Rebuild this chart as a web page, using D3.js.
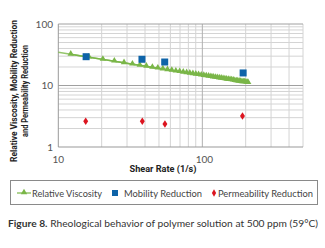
<!DOCTYPE html>
<html><head><meta charset="utf-8">
<script src="https://cdn.jsdelivr.net/npm/d3@7"></script>
<style>body{margin:0;background:#fff}svg{display:block}</style>
</head><body><svg id="c" width="325" height="248"></svg>
<script>
// ---- data ----
const viscRate = [12.2,16.3,20.4,24.5,28.6,32.7,36.8,40.9,45.0,49.1,53.2,57.3,61.4,65.5,69.6,73.7,77.8,81.9,86.0,90.1,94.2,98.3,102.4,106.5,110.6,114.7,118.8,122.9,127.0,131.1,135.2,139.3,143.4,147.5,151.6,155.7,159.8,163.9,168.0,172.1,176.2,180.3,184.4,188.5,192.6,196.7,200.8,204.9,208];
const viscValue = [32.2,28.9,26.6,24.8,23.4,22.2,21.3,20.5,19.7,19.1,18.5,18.0,17.6,17.1,16.8,16.4,16.1,15.8,15.5,15.2,15.0,14.7,14.5,14.3,14.1,13.9,13.7,13.5,13.4,13.2,13.1,12.9,12.8,12.6,12.5,12.4,12.3,12.2,12.0,11.9,11.8,11.7,11.6,11.5,11.4,11.4,11.3,11.2,11.1];
const trendRate = [10, 208];
const trendValue = [34.7, 11.1];
const mobRate = [15.6, 38.1, 54.8, 192];
const mobValue = [29.4, 26.7, 24.1, 16.0];
const permRate = [15.5, 38.3, 55.0, 190];
const permValue = [2.62, 2.62, 2.37, 3.19];
const xTicks = [10, 100];
const yTicks = [1, 10, 100];
const legendLabels = ["Relative Viscosity", "Mobility Reduction", "Permeability Reduction"];

const green = "#7ab648", blue = "#0e63a8", red = "#dc1520";
const svg = d3.select("#c");
const x = d3.scaleLog().domain([10, 500]).range([58.3, 303]);
const y = d3.scaleLog().domain([1, 100]).range([147, 24]);

// gridlines
const g = svg.append("g");
const minorX = [], minorY = [];
[10, 100].forEach(d => { for (let k = 2; k <= 9; k++) if (d*k <= 500) minorX.push(d*k); });
[1, 10].forEach(d => { for (let k = 2; k <= 9; k++) minorY.push(d*k); });
g.selectAll(".mx").data(minorX).join("line").attr("x1", d => x(d)).attr("x2", d => x(d))
  .attr("y1", y(1)).attr("y2", y(100)).attr("stroke", "#d4d4d4").attr("stroke-width", 1);
g.selectAll(".my").data(minorY).join("line").attr("x1", x(10)).attr("x2", x(500))
  .attr("y1", d => y(d)).attr("y2", d => y(d)).attr("stroke", "#d4d4d4").attr("stroke-width", 1);
g.selectAll(".Mx").data([100]).join("line").attr("x1", d => x(d)).attr("x2", d => x(d))
  .attr("y1", y(1)).attr("y2", y(100)).attr("stroke", "#b0b0b0");
g.selectAll(".My").data([10, 100]).join("line").attr("x1", x(10)).attr("x2", x(500))
  .attr("y1", d => y(d)).attr("y2", d => y(d)).attr("stroke", "#a0a0a0");
// axis lines
g.append("line").attr("x1", x(10)).attr("x2", x(10)).attr("y1", y(1)).attr("y2", y(100)).attr("stroke", "#999");
g.append("line").attr("x1", x(10)).attr("x2", x(500)).attr("y1", y(1)).attr("y2", y(1)).attr("stroke", "#999");

// tick labels
const tf = "Lato, 'Open Sans', sans-serif";
svg.selectAll(".yt").data(yTicks).join("text").attr("x", 53).attr("y", d => y(d) + 3.5)
  .attr("text-anchor", "end").attr("font-family", tf).attr("font-size", 10).attr("fill", "#555").text(d => d);
svg.selectAll(".xt").data(xTicks).join("text").attr("x", d => x(d) + (d === 100 ? 2 : 0)).attr("y", 163)
  .attr("text-anchor", "middle").attr("font-family", tf).attr("font-size", 10).attr("fill", "#555").text(d => d);

// axis titles
const bf = "'Roboto', 'DejaVu Sans', sans-serif";
svg.append("text").attr("x", 163).attr("y", 172).attr("text-anchor", "middle")
  .attr("font-family", bf).attr("font-weight", "bold").attr("font-size", 9.5).attr("fill", "#222")
  .attr("textLength", 67).attr("lengthAdjust", "spacingAndGlyphs").text("Shear Rate (1/s)");
const yt = svg.append("g").attr("transform", "translate(0,91) rotate(-90)");
yt.append("text").attr("x", 0).attr("y", 16.5).attr("text-anchor", "middle")
  .attr("font-family", bf).attr("font-weight", "bold").attr("font-size", 9.5).attr("fill", "#222")
  .attr("textLength", 142).attr("lengthAdjust", "spacingAndGlyphs").text("Relative Viscosity, Mobility Reduction");
yt.append("text").attr("x", 0).attr("y", 28).attr("text-anchor", "middle")
  .attr("font-family", bf).attr("font-weight", "bold").attr("font-size", 9.5).attr("fill", "#222")
  .attr("textLength", 92).attr("lengthAdjust", "spacingAndGlyphs").text("and Permeability Reduction");

// series
const line = d3.line().x(d => x(d[0])).y(d => y(d[1]));
svg.append("path").datum(d3.zip(trendRate, trendValue)).attr("d", line)
  .attr("fill", "none").attr("stroke", green).attr("stroke-width", 1.5).attr("opacity", 0.8);
svg.append("path").datum(d3.zip(viscRate, viscValue)).attr("d", line)
  .attr("fill", "none").attr("stroke", green).attr("stroke-width", 1.5);
const tri = d3.symbol().type(d3.symbolTriangle).size(18);
svg.selectAll(".tri").data(d3.zip(viscRate, viscValue)).join("path")
  .attr("d", tri).attr("transform", d => `translate(${x(d[0])},${y(d[1]) - 0.5})`).attr("fill", green);
svg.selectAll(".sq").data(d3.zip(mobRate, mobValue)).join("rect")
  .attr("x", d => x(d[0]) - 3.5).attr("y", d => y(d[1]) - 3.5).attr("width", 7).attr("height", 7).attr("fill", blue);
const dia = d3.symbol().type(d3.symbolDiamond).size(16);
svg.selectAll(".dm").data(d3.zip(permRate, permValue)).join("path")
  .attr("d", dia).attr("transform", d => `translate(${x(d[0])},${y(d[1])}) scale(1.15,1)`).attr("fill", red);

// legend
const lg = svg.append("g");
lg.append("rect").attr("x", 10.5).attr("y", 180.5).attr("width", 307).attr("height", 24)
  .attr("fill", "none").attr("stroke", "#8a8a8a");
const ly = 193;
lg.append("line").attr("x1", 17).attr("x2", 31).attr("y1", ly).attr("y2", ly).attr("stroke", green).attr("stroke-width", 1.2);
lg.append("path").attr("d", tri).attr("transform", `translate(24,${ly - 0.5})`).attr("fill", green);
lg.append("rect").attr("x", 112).attr("y", ly - 3).attr("width", 6).attr("height", 6).attr("fill", blue);
lg.append("path").attr("d", dia).attr("transform", `translate(214,${ly})`).attr("fill", red);
const lx = [32, 124, 218], lw = [70, 78, 95];
lg.selectAll(".lt").data(legendLabels).join("text").attr("x", (d, i) => lx[i]).attr("y", ly + 3.5)
  .attr("font-family", tf).attr("font-size", 9.5).attr("fill", "#444")
  .attr("textLength", (d, i) => lw[i]).attr("lengthAdjust", "spacingAndGlyphs").text(d => d);

// caption
const cap = svg.append("text").attr("x", 8).attr("y", 227).attr("font-family", tf).attr("font-size", 9.5)
  .attr("fill", "#333").attr("textLength", 310).attr("lengthAdjust", "spacingAndGlyphs");
cap.append("tspan").attr("font-weight", "bold").text("Figure 8.");
cap.append("tspan").text(" Rheological behavior of polymer solution at 500 ppm (59°C)");
</script></body></html>
